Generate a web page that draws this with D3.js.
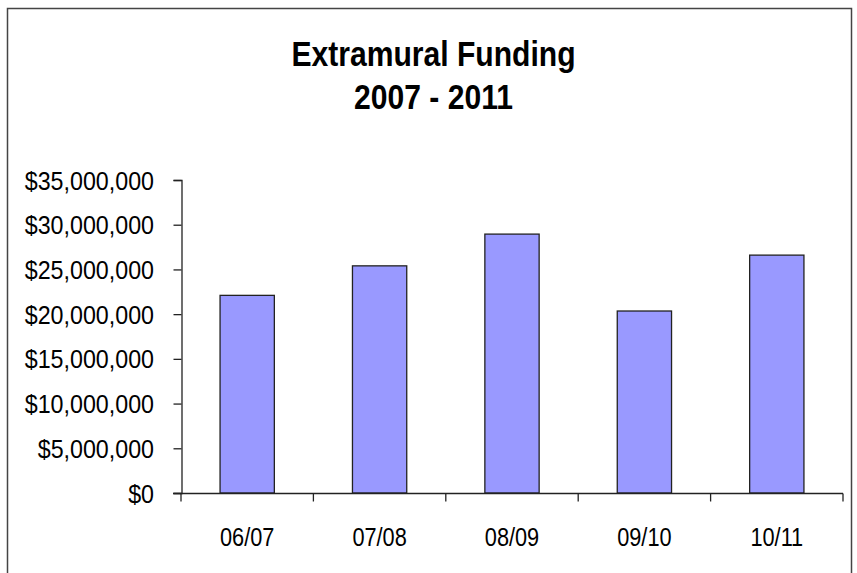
<!DOCTYPE html>
<html><head><meta charset="utf-8">
<script src="https://cdn.jsdelivr.net/npm/d3@7"></script>
<style>body{margin:0;background:#fff}svg{display:block}text{font-family:"Liberation Sans",Arial,sans-serif;fill:#000}</style>
</head><body>
<script>
const categories = ["06/07","07/08","08/09","09/10","10/11"];
const values = [22100000, 25400000, 28950000, 20350000, 26600000];
const yTicks = [0,5000000,10000000,15000000,20000000,25000000,30000000,35000000];
const titleLines = ["Extramural Funding","2007 - 2011"];

const W=857,H=573;
const svg=d3.select("body").append("svg").attr("width",W).attr("height",H);
svg.append("rect").attr("x",7.5).attr("y",8.5).attr("width",844).attr("height",600)
  .attr("fill","#fff").attr("stroke","#444").attr("stroke-width",1.5);

const x=d3.scaleBand().domain(categories).range([181,843]).paddingInner(0.59).paddingOuter(0.295);
const y=d3.scaleLinear().domain([0,35000000]).range([493,180]);

svg.append("g").selectAll("text").data(titleLines).join("text")
  .attr("transform",(d,i)=>`translate(433.5,${65.5+i*43}) scale(0.86,1)`)
  .attr("text-anchor","middle")
  .attr("font-size",35).attr("font-weight","bold").text(d=>d);

svg.append("g").selectAll("rect").data(values).join("rect")
  .attr("x",(d,i)=>x(categories[i])).attr("width",x.bandwidth())
  .attr("y",d=>y(d)).attr("height",d=>y(0)-y(d))
  .attr("fill","#9999FF").attr("stroke","#222").attr("stroke-width",1.3);

const fmt=d=>"$"+d3.format(",")(d);
const ya=svg.append("g").attr("transform","translate(181.5,0)")
  .call(d3.axisLeft(y).tickValues(yTicks).tickFormat(fmt).tickSize(8).tickPadding(19));
ya.selectAll("text").attr("font-size",25).attr("font-family","Liberation Sans, Arial")
  .attr("x",0).attr("dy","0.36em").attr("transform","translate(-27.5,0) scale(0.93,1)");
ya.selectAll("line,path").attr("stroke","#222").attr("stroke-width",1.3);

const xb=d3.scaleLinear().domain([0,5]).range([181,843]);
const xa=svg.append("g").attr("transform","translate(0,493.5)");
xa.append("line").attr("x1",173).attr("x2",843).attr("stroke","#222").attr("stroke-width",1.3);
xa.selectAll("line.t").data(d3.range(0,6)).join("line").attr("class","t")
  .attr("x1",d=>xb(d)).attr("x2",d=>xb(d)).attr("y1",0).attr("y2",8).attr("stroke","#222").attr("stroke-width",1.3);
xa.selectAll("text").data(categories).join("text")
  .attr("transform",d=>`translate(${x(d)+x.bandwidth()/2},52.5) scale(0.87,1)`)
  .attr("text-anchor","middle")
  .attr("font-size",25).text(d=>d);
</script>
</body></html>
